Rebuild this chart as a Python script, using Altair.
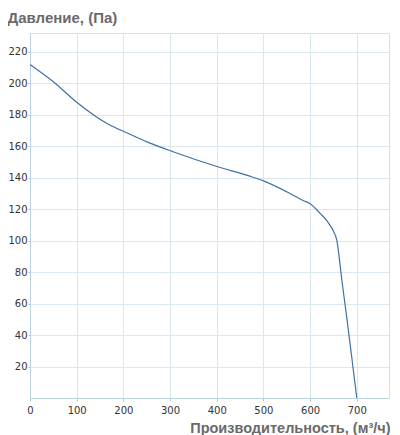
import altair as alt
import pandas as pd

flow = [0, 50, 100, 168, 200, 257, 302, 402, 471, 500, 557, 585, 600, 621, 635, 642, 650, 657, 668, 679, 690, 700]
pressure = [212, 201, 188, 174, 169.5, 162, 157, 147, 141, 138, 130, 125.5, 123.5, 117.5, 113, 110, 106, 100.5, 75, 50, 24, 0]
x_ticks = [0, 100, 200, 300, 400, 500, 600, 700]
y_ticks = [20, 40, 60, 80, 100, 120, 140, 160, 180, 200, 220]

df = pd.DataFrame({"flow": flow, "pressure": pressure})

grid = "#d9e7ef"

chart = alt.Chart(df).mark_line(color="#3f72a6", strokeWidth=1.2, clip=True,
                                interpolate="monotone").encode(
    x=alt.X("flow:Q", scale=alt.Scale(domain=[0, 769], nice=False, zero=False),
            axis=alt.Axis(values=x_ticks, title="Производительность, (м³/ч)",
                          titleAngle=0, titleAlign="right", titleX=360, titleY=34,
                          titleBaseline="alphabetic", titleFont="Liberation Sans",
                          titleFontSize=14.5, titleFontWeight="bold", titleColor="#6a6a6a",
                          labelFont="DejaVu Sans", labelFontSize=10, labelColor="#333333",
                          labelPadding=4, tickSize=3, tickColor="#a9c3d6",
                          domainColor="#bcd3e2", gridColor=grid, labelFlush=False)),
    y=alt.Y("pressure:Q", scale=alt.Scale(domain=[0, 232], nice=False, zero=True),
            axis=alt.Axis(values=y_ticks, title="Давление, (Па)",
                          titleAngle=0, titleAlign="left", titleX=-23, titleY=-11,
                          titleBaseline="alphabetic", titleFont="Liberation Sans",
                          titleFontSize=15, titleFontWeight="bold", titleColor="#6a6a6a",
                          labelFont="DejaVu Sans", labelFontSize=10, labelColor="#333333",
                          labelPadding=1, tickSize=2, tickColor="#a9c3d6",
                          domainColor="#bcd3e2", gridColor=grid)),
).properties(
    width=359, height=365,
    autosize=alt.AutoSizeParams(type="none"),
    padding={"left": 22, "top": 25, "right": 3, "bottom": 37},
).configure_view(stroke=grid, strokeWidth=1).configure(background="white")

chart.save("out.html", embed_options={"renderer": "svg", "actions": False})
